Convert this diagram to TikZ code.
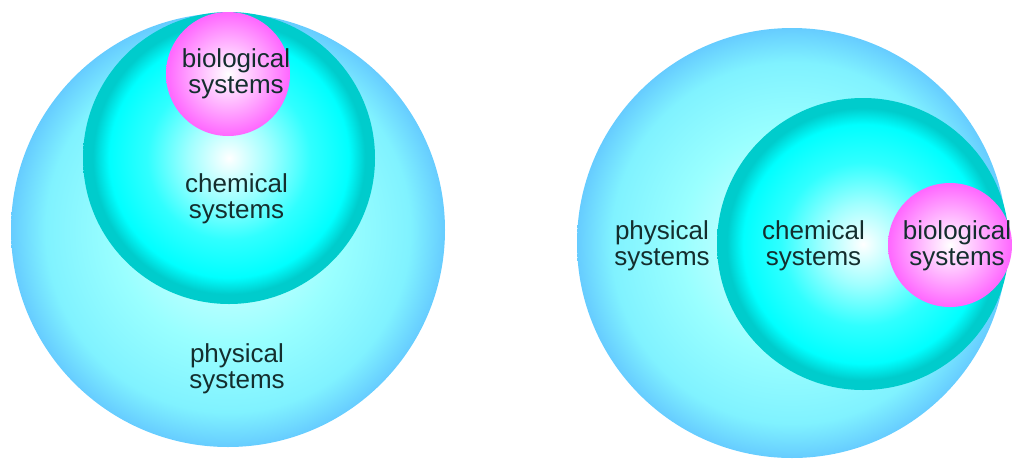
\documentclass[tikz,border=0pt]{standalone}
\usepackage{fontspec}
\setmainfont{Liberation Sans}
\definecolor{txt}{HTML}{142E2E}
\definecolor{physA}{HTML}{C0FFFF}
\definecolor{physB}{HTML}{99FFFF}
\definecolor{physC}{HTML}{80F2FF}
\definecolor{physE}{HTML}{66CCFF}
\definecolor{chemA}{HTML}{A0FFFF}
\definecolor{chemB}{HTML}{30FFFF}
\definecolor{chemC}{HTML}{00FFFF}
\definecolor{chemE}{HTML}{00CCCC}
\definecolor{bioA}{HTML}{FFC4FF}
\definecolor{bioB}{HTML}{FF8CFF}
\definecolor{bioE}{HTML}{FF66FF}
\pgfdeclareradialshading{physshade}{\pgfpointorigin}{color(0bp)=(white); color(6bp)=(physA); color(13bp)=(physB); color(21bp)=(physC); color(25bp)=(physE); color(50bp)=(physE)}
\pgfdeclareradialshading{chemshade}{\pgfpointorigin}{color(0bp)=(white); color(7bp)=(chemA); color(14bp)=(chemB); color(20.5bp)=(chemC); color(23.3bp)=(chemE); color(25bp)=(chemE); color(50bp)=(chemE)}
\pgfdeclareradialshading{bioshade}{\pgfpointorigin}{color(0bp)=(white); color(10bp)=(bioA); color(19bp)=(bioB); color(25bp)=(bioE); color(50bp)=(bioE)}
\tikzset{
  phys/.style={shading=physshade},
  chem/.style={shading=chemshade},
  bio/.style={shading=bioshade},
  lbl/.style={inner sep=0pt, align=center, text=txt, font=\fontsize{26}{26}\selectfont},
}
\begin{document}
\begin{tikzpicture}[x=1pt,y=-1pt]
\useasboundingbox (0,0) rectangle (1013,459);
% left diagram
\shade[phys] (228,230) circle (217pt);
\shade[chem] (229,158) circle (146pt);
\shade[bio] (228,74) circle (62pt);
\node[lbl] (bioL) at (236,73.5) {biological\\systems};
\node[lbl] (chemL) at (236.5,198.5) {chemical\\systems};
\node[lbl] (physL) at (237,368.5) {physical\\systems};
% right diagram
\shade[phys] (792,243) circle (215pt);
\shade[chem] (863,244) circle (146pt);
\shade[bio] (950,245) circle (62pt);
\node[lbl] (physR) at (662,245.5) {physical\\systems};
\node[lbl] (chemR) at (813.5,245.5) {chemical\\systems};
\node[lbl] (bioR) at (957,245.5) {biological\\systems};
\end{tikzpicture}
\end{document}
